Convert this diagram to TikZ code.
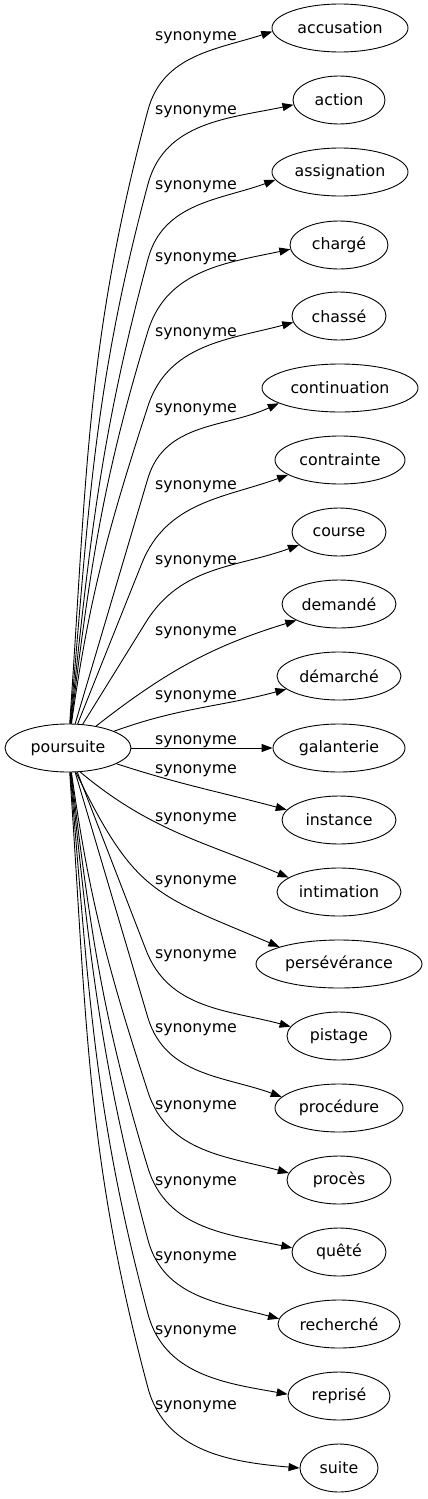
\documentclass[tikz,border=0pt]{standalone}
\usepackage{fontspec}
\setmainfont{DejaVu Sans}
\usetikzlibrary{arrows.meta,shapes.geometric}
\begin{document}
\begin{tikzpicture}[x=1pt,y=1pt,
  nd/.style={ellipse, draw, line width=0.9pt, inner sep=0pt, minimum height=48pt,
    font=\fontsize{15.8}{18}\selectfont},
  lbl/.style={anchor=base, inner sep=0pt, font=\fontsize{15.8}{18}\selectfont},
  edge/.style={draw, line width=0.9pt, -{Triangle[length=11pt,width=8pt]}}]
\useasboundingbox (0,0) rectangle (428,-1499);
% nodes
\node[nd, minimum width=126pt] (src) at (68,-748) {poursuite};
\node[nd, minimum width=136pt] (t1) at (340,-28) {accusation};
\node[nd, minimum width=92pt] (t2) at (339,-100) {action};
\node[nd, minimum width=136pt] (t3) at (340,-172) {assignation};
\node[nd, minimum width=98pt] (t4) at (339,-245) {chargé};
\node[nd, minimum width=94pt] (t5) at (339,-316) {chassé};
\node[nd, minimum width=156pt] (t6) at (340,-388) {continuation};
\node[nd, minimum width=130pt] (t7) at (340,-460) {contrainte};
\node[nd, minimum width=94pt] (t8) at (339,-532) {course};
\node[nd, minimum width=114pt] (t9) at (339,-604) {demandé};
\node[nd, minimum width=124pt] (t10) at (339,-676) {démarché};
\node[nd, minimum width=132pt] (t11) at (339,-748) {galanterie};
\node[nd, minimum width=114pt] (t12) at (339,-820) {instance};
\node[nd, minimum width=124pt] (t13) at (339,-892) {intimation};
\node[nd, minimum width=166pt] (t14) at (339,-964) {persévérance};
\node[nd, minimum width=104pt] (t15) at (339,-1036) {pistage};
\node[nd, minimum width=128pt] (t16) at (339,-1108) {procédure};
\node[nd, minimum width=104pt] (t17) at (339,-1180) {procès};
\node[nd, minimum width=94pt] (t18) at (339,-1252) {quêté};
\node[nd, minimum width=122pt] (t19) at (339,-1324) {recherché};
\node[nd, minimum width=102pt] (t20) at (339,-1396) {reprisé};
\node[nd, minimum width=78pt] (t21) at (339,-1468) {suite};
% bend points
\coordinate (b1) at (148,-110);
\coordinate (b2) at (148,-184);
\coordinate (b3) at (148,-259);
\coordinate (b4) at (148,-331);
\coordinate (b5) at (148,-406);
\coordinate (b6) at (148,-478);
\coordinate (b7) at (142,-563);
\coordinate (b8) at (146,-622);
\coordinate (b15) at (146,-950);
\coordinate (b16) at (148,-1018);
\coordinate (b17) at (148,-1092);
\coordinate (b18) at (148,-1168);
\coordinate (b19) at (148,-1240);
\coordinate (b20) at (148,-1314);
\coordinate (b21) at (148,-1388);
% edges
\draw[edge] (src) to[out=86,in=255] (b1) to[out=75,in=198] (t1.183);
\draw[edge] (src) to[out=85,in=255] (b2) to[out=75,in=192] (t2.186);
\draw[edge] (src) to[out=84,in=255] (b3) to[out=75,in=200] (t3.187);
\draw[edge] (src) to[out=83,in=253] (b4) to[out=73,in=192] (t4.185);
\draw[edge] (src) to[out=82,in=252] (b5) to[out=72,in=195] (t5.188);
\draw[edge] (src) -- (b6) to[out=73,in=205] (t6.194);
\draw[edge] (src) -- (b7) to[out=68,in=200] (t7.196);
\draw[edge] (src) -- (b8) to[out=58,in=200] (t8.198);
\draw[edge] (src) to[out=38,in=197] (t9.201);
\draw[edge] (src) to[out=20,in=195] (t10.194);
\draw[edge] (src) -- (t11);
\draw[edge] (src) to[out=-18,in=165] (t12.169);
\draw[edge] (src.-63) to[out=-40,in=157] (t13.164);
\draw[edge] (src.-72) to[out=-64,in=157,looseness=1.3] (t14.164);
\draw[edge] (src) -- (b15) to[out=-69,in=165] (t15.169);
\draw[edge] (src) -- (b16) to[out=-73,in=160] (t16.169);
\draw[edge] (src) to[out=-82,in=108] (b17) to[out=-72,in=165] (t17.172);
\draw[edge] (src) to[out=-83,in=107] (b18) to[out=-73,in=168] (t18.175);
\draw[edge] (src) to[out=-84,in=105] (b19) to[out=-75,in=165] (t19.175);
\draw[edge] (src) to[out=-85,in=105] (b20) to[out=-75,in=170] (t20.178);
\draw[edge] (src) to[out=-86,in=105] (b21) to[out=-75,in=175] (t21.180);
% labels
\foreach \L/\n in {33/1,107/2,182/3,254/4,329/5,405/6,482/7,557/8,628/9,692/10,737/11,
  766/12,814/13,877/14,951/15,1025/16,1102/17,1178/18,1253/19,1327/20,1402/21}
  \node[lbl] (l\n) at (196,-\L-7) {synonyme};
\end{tikzpicture}
\end{document}
